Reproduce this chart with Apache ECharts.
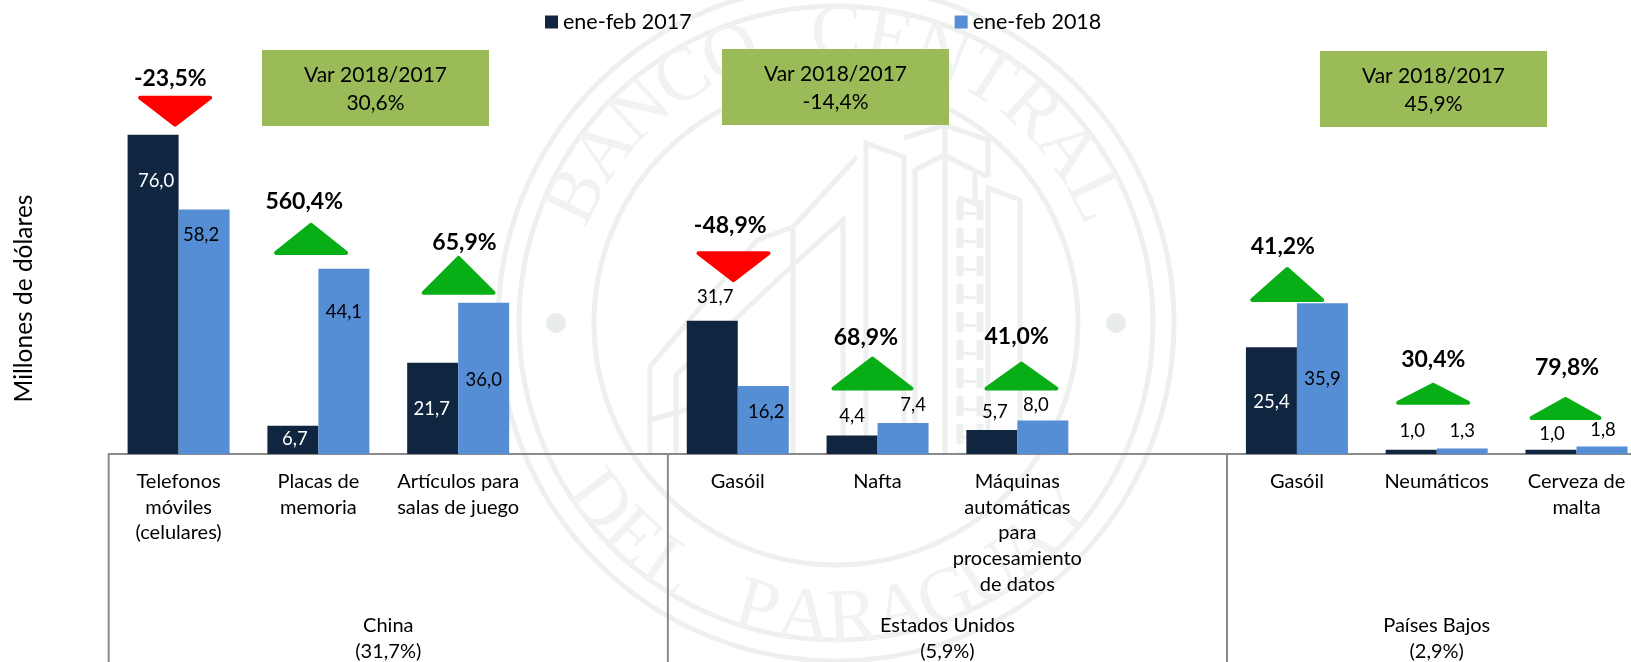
<!DOCTYPE html>
<html><head><meta charset="utf-8">
<style>html,body{margin:0;padding:0;background:#fff}#c{width:1631px;height:662px}</style>
<script src="https://cdn.jsdelivr.net/npm/echarts@6/dist/echarts.min.js"></script>
</head><body><div id="c"></div>
<script>
// ---------- data ----------
const categories = ['Telefonos\nmóviles\n(celulares)','Placas de\nmemoria','Artículos para\nsalas de juego','',
  'Gasóil','Nafta','Máquinas\nautomáticas\npara\nprocesamiento\nde datos','',
  'Gasóil','Neumáticos','Cerveza de\nmalta'];
const seriesNames = ['ene-feb 2017','ene-feb 2018'];
const values2017 = [76.0,6.7,21.7,null,31.7,4.4,5.7,null,25.4,1.0,1.0];
const values2018 = [58.2,44.1,36.0,null,16.2,7.4,8.0,null,35.9,1.3,1.8];
const changes = ['-23,5%','560,4%','65,9%',null,'-48,9%','68,9%','41,0%',null,'41,2%','30,4%','79,8%'];
const groupNames = ['China\n(31,7%)','Estados Unidos\n(5,9%)','Países Bajos\n(2,9%)'];
const groupSpans = [4,4,3];
const groupVar = ['Var 2018/2017\n30,6%','Var 2018/2017\n-14,4%','Var 2018/2017\n45,9%'];
const yTitle = 'Millones de dólares';

// ---------- layout (not data) ----------
const FONT = 'Lato';
const C17 = '#10253F', C18 = '#558ED5';
const WM = '#edf0ee';
// value-label placement per bar: [dx px, dy px from bar top, colour]
const lab17 = [[3,46,'#fff'],[2,13,'#fff'],[-1,46.5,'#fff'],null,[3,-24,'#000'],[0,-19,'#000'],[3,-18,'#000'],null,[0,55,'#fff'],[1,-19,'#000'],[1,-16,'#000']];
const lab18 = [[-3,25,'#000'],[0,43,'#000'],[0,77,'#000'],null,[3,26.5,'#000'],[10,-17.5,'#000'],[-7,-15,'#000'],null,[0,76,'#000'],[0,-18,'#000'],[1,-16,'#000']];
// arrows: [dx, base level (axis units), height px, width px, label dx, label level]
const arrows = [[-3.5,85.3,31,74,-8.3,89.5],[-7.3,47.4,32,74,-14.2,60.1],[0.4,37.9,39,74,6.3,50.4],null,
  [-4.3,48.3,31,74,-7.5,54.3],[-5.1,15.1,34,82,-11.7,27.8],[4.1,15.1,29,74,-0.7,28],null,
  [-9.7,36.2,35,74,-14.1,49.3],[-3.6,11.7,22,74,-3.4,22.5],[-11,8.1,23,72,-9.5,20.5]];
const boxes = [[262,50,227,76],[722,49,227,76],[1320,51,227,76]];

function fmt(v){return v.toFixed(1).replace('.',',');}
function barSeries(name,vals,color,lab){
  return {name,type:'bar',barWidth:51,barGap:0,itemStyle:{color},silent:true,z:3,
    data:vals.map((v,i)=>v==null?null:{value:v,label:{show:true,formatter:fmt(v),
      position:['50%',lab[i][1]],offset:[lab[i][0],0],align:'center',verticalAlign:'middle',
      color:lab[i][2],fontFamily:FONT,fontSize:18.5}})};
}

// watermark (decorative seal behind the chart)
const wm=[]; const cx=836, cy=323;
[242,317,338].forEach(r=>wm.push({type:'circle',z:-5,silent:true,shape:{cx,cy,r},style:{fill:'none',stroke:WM,lineWidth:5}}));
[-1,1].forEach(s=>wm.push({type:'circle',z:-5,silent:true,shape:{cx:cx+s*280,cy,r:10},style:{fill:'#e8ecea'}}));
function arc(text,from,to,r,bottom){
  const n=text.length;
  [...text].forEach((ch,i)=>{
    const a=(from+(to-from)*i/(n-1))*Math.PI/180;
    const x=cx+r*Math.sin(a), y=bottom?cy+r*Math.cos(a):cy-r*Math.cos(a);
    wm.push({type:'text',z:-5,silent:true,x,y,rotation:bottom?a:-a,
      style:{text:ch,x:0,y:0,align:'center',verticalAlign:'middle',fill:'#f0f3f1',font:'76px "Liberation Serif"'}});
  });
}
arc('BANCO CENTRAL',-64,64,287,false);
arc('DEL PARAGUAY',-53,50,298,true);
[
 [[650,454],[650,367],[757,240],[793,227],[857,157]],
 [[793,227],[793,454]],
 [[676,454],[676,375],[795,263],[843,220],[843,454]],
 [[866,454],[866,143],[904,157],[904,454]],
 [[904,138],[944,125],[988,140],[988,177]],
 [[915,454],[915,170],[944,155],[988,177]],
 [[945,125],[945,454]],
 [[975,172],[975,204]],[[958,197],[983,207]],
 [[988,454],[988,188],[1020,200],[1020,454]],
 [[650,420],[720,400]],[[720,410],[790,420]]
].forEach(points=>wm.push({type:'polyline',z:-5,silent:true,shape:{points},style:{fill:'none',stroke:WM,lineWidth:5}}));
[960,980].forEach(x=>wm.push({type:'line',z:-5,silent:true,shape:{x1:x,y1:200,x2:x,y2:454},style:{stroke:WM,lineWidth:7,lineDash:[20,8]}}));
wm.push({type:'line',z:-5,silent:true,shape:{x1:970,y1:212,x2:970,y2:454},style:{stroke:WM,lineWidth:14,lineDash:[3,25]}});

const graphics = wm.slice();
boxes.forEach((b,i)=>{
  graphics.push({type:'rect',z:1,silent:true,shape:{x:b[0],y:b[1],width:b[2],height:b[3]},style:{fill:'#9BBB59'}});
  graphics.push({type:'text',z:2,silent:true,style:{x:b[0]+b[2]/2,y:b[1]+b[3]/2+1,text:groupVar[i],align:'center',verticalAlign:'middle',
    fill:'#000',font:'21px '+FONT,lineHeight:28}});
});
graphics.push({type:'text',z:2,silent:true,x:24,y:298.5,rotation:Math.PI/2,
  style:{x:0,y:0,text:yTitle,align:'center',verticalAlign:'middle',fill:'#000',font:'24.5px '+FONT}});

const option = {
  animation:false,
  backgroundColor:'#fff',
  textStyle:{fontFamily:FONT},
  legend:{left:540,top:6,itemWidth:13,itemHeight:13,itemGap:263,icon:'rect',data:seriesNames,selectedMode:false,
    textStyle:{fontFamily:FONT,fontSize:21.5,color:'#000',padding:[0,0,0,0]}},
  grid:{left:108.7,top:34,width:1537.7,height:420,containLabel:false,outerBoundsMode:'none'},
  xAxis:{type:'category',data:categories,
    axisLine:{lineStyle:{color:'#8a8a8a',width:2}},axisTick:{show:false},
    axisLabel:{interval:0,margin:15,color:'#000',fontFamily:FONT,fontSize:20,lineHeight:25.6,align:'center'}},
  yAxis:{type:'value',min:0,max:100,show:false,splitLine:{show:false}},
  graphic:{elements:graphics},
  series:[
    barSeries(seriesNames[0],values2017,C17,lab17),
    barSeries(seriesNames[1],values2018,C18,lab18),
    {type:'custom',silent:true,z:4,clip:false,
     data:changes.map((c,i)=>c==null?[i,null]:[i,0]),
     encode:{x:0,y:1},
     renderItem(params,api){
       const i=params.dataIndex, a=arrows[i];
       if(!a) return null;
       const x0=api.coord([i,0])[0]+a[0];
       const yb=api.coord([i,a[1]])[1];
       const up=!changes[i].startsWith('-');
       const ins=2, w=a[3]/2-ins, h=a[2]-2*ins;
       const by=up?yb-ins:yb+ins, ty=up?by-h:by+h;
       const lx=api.coord([i,0])[0]+a[4], ly=api.coord([i,a[5]])[1];
       return {type:'group',children:[
         {type:'polygon',shape:{points:[[x0-w,by],[x0+w,by],[x0,ty]]},
          style:{fill:up?'#08AE15':'#FF0000',stroke:up?'#08AE15':'#FF0000',lineWidth:4,lineJoin:'round'}},
         {type:'text',style:{x:lx,y:ly,text:changes[i],align:'center',verticalAlign:'middle',fill:'#000',font:'bold 23px '+FONT}}
       ]};
     }},
    {type:'custom',silent:true,z:4,clip:false,
     data:groupNames.map((g,i)=>[i,0]),
     encode:{x:0,y:1},
     renderItem(params,api){
       const i=params.dataIndex;
       const band=api.size([1,0])[0];
       let start=0; for(let k=0;k<i;k++) start+=groupSpans[k];
       const x=api.coord([start,0])[0]-band/2, y=api.coord([start,0])[1];
       return {type:'group',children:[
         {type:'line',shape:{x1:x,y1:y,x2:x,y2:662},style:{stroke:'#8a8a8a',lineWidth:2}},
         {type:'text',style:{x:x+band*groupSpans[i]/2,y:638.5,text:groupNames[i],align:'center',verticalAlign:'middle',fill:'#000',font:'20px '+FONT,lineHeight:26}}
       ]};
     }}
  ]
};
echarts.init(document.getElementById('c'),null,{renderer:'canvas'}).setOption(option);
</script></body></html>
